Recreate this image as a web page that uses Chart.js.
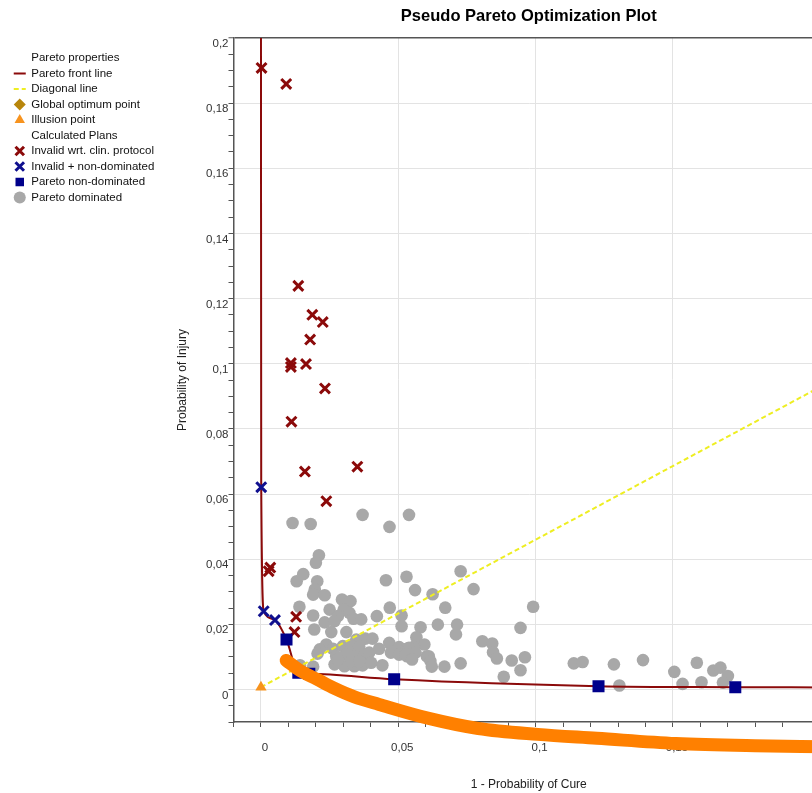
<!DOCTYPE html>
<html>
<head>
<meta charset="utf-8">
<title>Pseudo Pareto Optimization Plot</title>
<script src="https://cdn.jsdelivr.net/npm/chart.js@4.4.1/dist/chart.umd.min.js"></script>
<style>
  body { margin: 0; background: #fff; }
  .frame { width: 812px; height: 793px; overflow: hidden; background: #fff; }
  canvas { display: block; }
</style>
</head>
<body>
<div class="frame"><canvas id="paretoChart" width="838" height="793"></canvas></div>
<script>
// Pareto front line (x = 1 - probability of cure, y = probability of injury)
const frontX = [0, 0.0001, 0.0010, 0.0051, 0.0093, 0.0136, 0.0176, 0.0485, 0.1229, 0.1727, 0.205];
const frontY = [0.2, 0.0621, 0.0240, 0.0213, 0.0153, 0.0051, 0.0048, 0.0031, 0.0010, 0.0007, 0.0006];

// Diagonal line from the illusion point
const diagX = [0, 0.205];
const diagY = [0.0007, 0.0935];

const illusionX = [0];
const illusionY = [0.0007];

// Invalid wrt. clin. protocol
const invalidX = [0.0002, 0.0092, 0.0136, 0.0187, 0.0225, 0.0179, 0.0109, 0.0109, 0.0164, 0.0233, 0.0111, 0.0160, 0.0351, 0.0238, 0.0028, 0.0034, 0.0128, 0.0122];
const invalidY = [0.1908, 0.1859, 0.1239, 0.1150, 0.1128, 0.1074, 0.1002, 0.0990, 0.0999, 0.0924, 0.0822, 0.0669, 0.0684, 0.0578, 0.0363, 0.0374, 0.0223, 0.0176];

// Invalid + non-dominated
const invalidNdX = [0.0001, 0.0010, 0.0051];
const invalidNdY = [0.0621, 0.0240, 0.0213];

// Pareto non-dominated
const nonDomX = [0.0093, 0.0136, 0.0176, 0.0485, 0.1229, 0.1727];
const nonDomY = [0.0153, 0.0051, 0.0048, 0.0031, 0.0010, 0.0007];

// Pareto dominated
const domX = [0.0115, 0.0181, 0.0370, 0.0468, 0.0539, 0.0211, 0.0200, 0.0154, 0.0130, 0.0205, 0.0196, 0.0190, 0.0232, 0.0455,
  0.0530, 0.0561, 0.0625, 0.0727, 0.0774, 0.0991, 0.0671, 0.0469, 0.0295, 0.0326, 0.0140, 0.0250, 0.0190, 0.0232, 0.0194,
  0.0301, 0.0280, 0.0268, 0.0322, 0.0337, 0.0365, 0.0422, 0.0512, 0.0512, 0.0581, 0.0256, 0.0311, 0.0347, 0.0380, 0.0406,
  0.0566, 0.0595, 0.0238, 0.0214, 0.0206, 0.0262, 0.0298, 0.0329, 0.0358, 0.0274, 0.0311, 0.0340, 0.0376, 0.0394, 0.0430,
  0.0467, 0.0503, 0.0532, 0.0557, 0.0473, 0.0503, 0.0532, 0.0604, 0.0268, 0.0304, 0.0340, 0.0370, 0.0401, 0.0442, 0.0142,
  0.0190, 0.0280, 0.0329, 0.0358, 0.0644, 0.0714, 0.0710, 0.0945, 0.0539, 0.0527, 0.0563, 0.0611, 0.0617, 0.0622, 0.0550,
  0.0668, 0.0727, 0.0806, 0.0842, 0.0845, 0.0859, 0.0913, 0.0945, 0.0961, 0.0884, 0.1139, 0.1171, 0.1285, 0.1391, 0.1305,
  0.1505, 0.1535, 0.1587, 0.1604, 0.1647, 0.1673, 0.1700, 0.1682];
const domY = [0.0511, 0.0508, 0.0536, 0.0499, 0.0536, 0.0412, 0.0389, 0.0354, 0.0332, 0.0332, 0.0307, 0.0291, 0.0289, 0.0335,
  0.0346, 0.0305, 0.0292, 0.0363, 0.0308, 0.0254, 0.0251, 0.0251, 0.0276, 0.0271, 0.0254, 0.0245, 0.0227, 0.0206, 0.0184,
  0.0245, 0.0225, 0.0210, 0.0235, 0.0217, 0.0215, 0.0225, 0.0227, 0.0194, 0.0191, 0.0176, 0.0176, 0.0153, 0.0156, 0.0156,
  0.0160, 0.0138, 0.0138, 0.0123, 0.0110, 0.0125, 0.0133, 0.0135, 0.0131, 0.0102, 0.0107, 0.0102, 0.0102, 0.0113, 0.0125,
  0.0143, 0.0130, 0.0125, 0.0131, 0.0113, 0.0107, 0.0102, 0.0102, 0.0077, 0.0071, 0.0071, 0.0074, 0.0082, 0.0074, 0.0074,
  0.0070, 0.0092, 0.0087, 0.0087, 0.0199, 0.0199, 0.0169, 0.0189, 0.0128, 0.0107, 0.0113, 0.0102, 0.0087, 0.0070, 0.0092,
  0.0070, 0.0080, 0.0148, 0.0141, 0.0114, 0.0095, 0.0089, 0.0059, 0.0099, 0.0039, 0.0080, 0.0084, 0.0077, 0.0090, 0.0012,
  0.0054, 0.0017, 0.0082, 0.0022, 0.0058, 0.0067, 0.0041, 0.0021];

// Hand-drawn orange mark over the plot
const markX = [0.0092, 0.0142, 0.0204, 0.0268, 0.0340, 0.0430, 0.0611, 0.0791, 0.1007, 0.1223, 0.1511, 0.1799, 0.2052];
const markY = [0.0089, 0.0058, 0.0031, 0.0003, -0.0023, -0.0046, -0.0089, -0.0120, -0.0138, -0.0150, -0.0166, -0.0173, -0.0176];

// Legend groups
const legendGroups = [
    { title: 'Pareto properties', labels: ['Pareto front line', 'Diagonal line', 'Global optimum point', 'Illusion point'] },
    { title: 'Calculated Plans', labels: ['Invalid wrt. clin. protocol', 'Invalid + non-dominated', 'Pareto non-dominated', 'Pareto dominated'] }
];

const FONT = "'Liberation Sans', Arial, sans-serif";
const PLOT_LEFT = 233.5;
const PAD_LEFT = 10;

document.addEventListener('DOMContentLoaded', function() {
    const ctx = document.getElementById('paretoChart').getContext('2d');

    function zip(xs, ys) {
        return xs.map((x, i) => ({ x: x, y: ys[i] }));
    }

    function onStep(value, step) {
        const r = value / step;
        return Math.abs(r - Math.round(r)) < 1e-6;
    }

    function decimalLabel(value) {
        return String(parseFloat(value.toFixed(3))).replace('.', ',');
    }

    // Legend with two heading rows
    function buildLegendItems(chart) {
        const items = [];
        legendGroups.forEach(group => {
            items.push({
                text: group.title,
                fontColor: '#111',
                fillStyle: 'rgba(0,0,0,0)',
                strokeStyle: 'rgba(0,0,0,0)',
                lineWidth: 0,
                pointStyle: 'circle',
                hidden: false
            });
            group.labels.forEach(label => {
                const index = chart.data.datasets.findIndex(d => d.label === label);
                const ds = chart.data.datasets[index];
                items.push({
                    text: label,
                    datasetIndex: index,
                    fontColor: '#111',
                    fillStyle: ds.backgroundColor,
                    strokeStyle: ds.borderColor,
                    lineWidth: ds.legendLineWidth,
                    lineDash: ds.borderDash || [],
                    pointStyle: ds.legendStyle,
                    hidden: false
                });
            });
        });
        return items;
    }

    const paretoChart = new Chart(ctx, {
        type: 'scatter',
        data: {
            datasets: [
                {
                    label: 'Mark',
                    data: zip(markX, markY),
                    showLine: true,
                    borderColor: '#ff8000',
                    backgroundColor: '#ff8000',
                    borderWidth: 13,
                    borderCapStyle: 'round',
                    borderJoinStyle: 'round',
                    pointRadius: 0,
                    cubicInterpolationMode: 'monotone',
                    tension: 0.4,
                    capBezierPoints: false,
                    clip: false,
                    order: 0
                },
                {
                    label: 'Illusion point',
                    data: zip(illusionX, illusionY),
                    pointStyle: 'triangle',
                    legendStyle: 'triangle',
                    legendLineWidth: 0,
                    pointRadius: 6.5,
                    backgroundColor: '#f7931e',
                    borderColor: '#f7931e',
                    pointBorderWidth: 0,
                    order: 1
                },
                {
                    label: 'Global optimum point',
                    data: [],
                    pointStyle: 'rectRot',
                    legendStyle: 'rectRot',
                    legendLineWidth: 0,
                    pointRadius: 7,
                    backgroundColor: '#b8860b',
                    borderColor: '#b8860b',
                    pointBorderWidth: 0,
                    order: 1
                },
                {
                    label: 'Pareto non-dominated',
                    data: zip(nonDomX, nonDomY),
                    pointStyle: 'rect',
                    legendStyle: 'rect',
                    legendLineWidth: 0,
                    pointRadius: 8.5,
                    backgroundColor: '#00008b',
                    borderColor: '#00008b',
                    pointBorderWidth: 0,
                    order: 2
                },
                {
                    label: 'Invalid + non-dominated',
                    data: zip(invalidNdX, invalidNdY),
                    pointStyle: 'crossRot',
                    legendStyle: 'crossRot',
                    legendLineWidth: 3,
                    pointRadius: 7,
                    backgroundColor: '#10108f',
                    borderColor: '#10108f',
                    pointBorderWidth: 3,
                    order: 3
                },
                {
                    label: 'Invalid wrt. clin. protocol',
                    data: zip(invalidX, invalidY),
                    pointStyle: 'crossRot',
                    legendStyle: 'crossRot',
                    legendLineWidth: 3,
                    pointRadius: 7,
                    backgroundColor: '#8b0a0a',
                    borderColor: '#8b0a0a',
                    pointBorderWidth: 3,
                    order: 4
                },
                {
                    label: 'Pareto front line',
                    data: zip(frontX, frontY),
                    showLine: true,
                    legendStyle: 'line',
                    legendLineWidth: 2,
                    borderColor: '#8b0a0a',
                    backgroundColor: '#8b0a0a',
                    borderWidth: 2,
                    pointRadius: 0,
                    cubicInterpolationMode: 'monotone',
                    tension: 0.4,
                    order: 5
                },
                {
                    label: 'Diagonal line',
                    data: zip(diagX, diagY),
                    showLine: true,
                    legendStyle: 'line',
                    legendLineWidth: 2,
                    borderColor: '#eeee22',
                    backgroundColor: '#eeee22',
                    borderWidth: 2,
                    borderDash: [5, 3],
                    pointRadius: 0,
                    order: 6
                },
                {
                    label: 'Pareto dominated',
                    data: zip(domX, domY),
                    pointStyle: 'circle',
                    legendStyle: 'circle',
                    legendLineWidth: 0,
                    pointRadius: 6.3,
                    backgroundColor: '#a8a8a8',
                    borderColor: '#a8a8a8',
                    pointBorderWidth: 0,
                    order: 7
                }
            ]
        },
        options: {
            responsive: false,
            animation: false,
            devicePixelRatio: 1,
            events: [],
            layout: {
                padding: { left: PAD_LEFT, right: 8, top: 0, bottom: 0 }
            },
            plugins: {
                tooltip: { enabled: false },
                title: {
                    display: true,
                    fullSize: false,
                    text: 'Pseudo Pareto Optimization Plot',
                    color: '#000',
                    font: { family: FONT, size: 16.5, weight: 'bold' },
                    padding: { top: 7, bottom: 11.2 }
                },
                legend: {
                    position: 'left',
                    align: 'start',
                    fullSize: false,
                    maxWidth: 200,
                    onClick: function() {},
                    title: {
                        display: true,
                        text: ' ',
                        font: { size: 1 },
                        padding: { top: 9, bottom: 0 }
                    },
                    labels: {
                        usePointStyle: true,
                        boxHeight: 8.5,
                        padding: 4,
                        color: '#111',
                        font: { family: FONT, size: 11.5 },
                        generateLabels: buildLegendItems
                    }
                }
            },
            scales: {
                x: {
                    type: 'linear',
                    min: -0.01,
                    max: 0.205,
                    afterFit: function(scale) { scale.height = 71; },
                    border: { color: '#555', width: 1.5 },
                    grid: {
                        color: c => (c.tick && c.tick.value >= -1e-9 && onStep(c.tick.value, 0.05)) ? '#e3e3e3' : 'rgba(0,0,0,0)',
                        tickColor: '#555',
                        tickLength: 5,
                        tickWidth: 1
                    },
                    ticks: {
                        stepSize: 0.01,
                        autoSkip: false,
                        maxRotation: 0,
                        padding: 14,
                        labelOffset: 4,
                        color: '#333',
                        font: { family: FONT, size: 11.5 },
                        callback: value => (value >= -1e-9 && onStep(value, 0.05)) ? decimalLabel(value) : ''
                    },
                    title: {
                        display: true,
                        text: '1 - Probability of Cure',
                        color: '#222',
                        font: { family: FONT, size: 12 },
                        padding: { top: 0, bottom: 0.8 }
                    }
                },
                y: {
                    type: 'linear',
                    min: -0.01,
                    max: 0.2,
                    // keep the plot's left edge fixed whatever the legend width is
                    afterFit: function(scale) {
                        const legend = scale.chart.legend;
                        const legendWidth = legend && legend.width ? legend.width : 154;
                        scale.width = PLOT_LEFT - PAD_LEFT - legendWidth;
                    },
                    border: { color: '#555', width: 1.5 },
                    grid: {
                        color: c => {
                            const v = c.tick ? c.tick.value : -1;
                            if (Math.abs(v - 0.2) < 1e-9) return '#555';
                            return (v >= -1e-9 && onStep(v, 0.02)) ? '#e3e3e3' : 'rgba(0,0,0,0)';
                        },
                        lineWidth: c => (c.tick && Math.abs(c.tick.value - 0.2) < 1e-9) ? 1.5 : 1,
                        tickColor: '#555',
                        tickLength: 5,
                        tickWidth: 1
                    },
                    ticks: {
                        stepSize: 0.005,
                        autoSkip: false,
                        padding: 0,
                        labelOffset: 6,
                        color: '#333',
                        font: { family: FONT, size: 11.5 },
                        callback: value => (value >= -1e-9 && onStep(value, 0.02)) ? decimalLabel(value) : ''
                    },
                    title: {
                        display: true,
                        text: 'Probability of Injury',
                        color: '#222',
                        font: { family: FONT, size: 12 },
                        padding: { top: 0, bottom: 0 }
                    }
                }
            }
        },
        plugins: [{
            // place the y-axis title at a fixed distance left of the plot
            id: 'yTitleSpot',
            afterLayout: function(chart) {
                const y = chart.scales.y;
                y.options.title.padding = { top: 183 - 7.2 - y.left, bottom: 0 };
            }
        }]
    });
});
</script>
</body>
</html>
